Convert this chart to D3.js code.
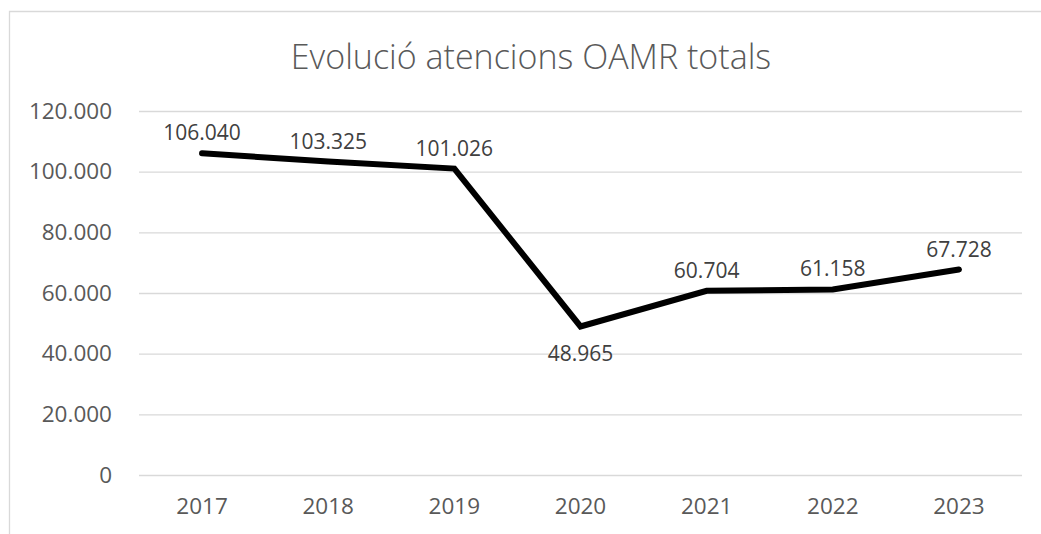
<!DOCTYPE html>
<html>
<head>
<meta charset="utf-8">
<script src="https://cdn.jsdelivr.net/npm/d3@7"></script>
<style>
  html, body { margin: 0; padding: 0; background: #fff; }
  svg { display: block; }
</style>
</head>
<body>
<svg id="chart" width="1041" height="534"></svg>
<script>
// Annual totals of OAMR attentions
const years = ["2017", "2018", "2019", "2020", "2021", "2022", "2023"];
const totals = [106040, 103325, 101026, 48965, 60704, 61158, 67728];
// Label placement relative to each point
const labelSide = ["above", "above", "above", "below", "above", "above", "above"];
const yTicks = [0, 20000, 40000, 60000, 80000, 100000, 120000];
const title = "Evolució atencions OAMR totals";

const svg = d3.select("#chart");
const W = 1041, H = 534;
const plot = { left: 139, right: 1022, top: 111, bottom: 475 };
const font = "'Open Sans', 'Noto Sans', sans-serif";

// Thousands separator as a dot
const fmt = d3.formatLocale({ decimal: ",", thousands: ".", grouping: [3], currency: ["", "€"] }).format(",d");

// Chart frame (only top and left edges fall inside the canvas)
svg.append("path")
  .attr("d", `M9.5,${H} V11.5 H${W}`)
  .attr("fill", "none")
  .attr("stroke", "#d9d9d9")
  .attr("stroke-width", 1.3);

svg.append("text")
  .attr("x", 531)
  .attr("y", 56)
  .attr("text-anchor", "middle")
  .attr("dominant-baseline", "central")
  .attr("font-family", font)
  .attr("font-size", 34)
  .attr("font-weight", 300)
  .attr("fill", "#595959")
  .text(title);

const x = d3.scaleBand().domain(years).range([plot.left, plot.right]);
const y = d3.scaleLinear().domain([0, 120000]).range([plot.bottom, plot.top]);

// Horizontal gridlines with value labels
const yAxis = d3.axisLeft(y)
  .tickValues(yTicks)
  .tickSize(-(plot.right - plot.left))
  .tickPadding(27)
  .tickFormat(d => fmt(d));

const gy = svg.append("g")
  .attr("transform", `translate(${plot.left},0)`)
  .call(yAxis);
gy.select(".domain").remove();
gy.selectAll(".tick line").attr("stroke", "#d9d9d9").attr("stroke-width", 1.3);
gy.selectAll(".tick text")
  .attr("font-family", font)
  .attr("font-size", 22.5)
  .attr("fill", "#595959");

// Category labels
const xAxis = d3.axisBottom(x).tickSize(0).tickPadding(23);
const gx = svg.append("g")
  .attr("transform", `translate(0,${plot.bottom})`)
  .call(xAxis);
gx.select(".domain").remove();
gx.selectAll(".tick text")
  .attr("font-family", font)
  .attr("font-size", 22.5)
  .attr("fill", "#595959");

const cx = (d, i) => x(years[i]) + x.bandwidth() / 2;

const line = d3.line()
  .x((d, i) => cx(d, i))
  .y(d => y(d));

svg.append("path")
  .datum(totals)
  .attr("d", line)
  .attr("fill", "none")
  .attr("stroke", "#000")
  .attr("stroke-width", 6)
  .attr("stroke-linejoin", "miter")
  .attr("stroke-linecap", "round");

svg.append("g")
  .selectAll("text")
  .data(totals)
  .join("text")
  .attr("x", (d, i) => cx(d, i))
  .attr("y", (d, i) => y(d) + (labelSide[i] === "below" ? 27 : -21))
  .attr("text-anchor", "middle")
  .attr("dominant-baseline", "central")
  .attr("font-family", font)
  .attr("font-size", 21)
  .attr("fill", "#404040")
  .text(d => fmt(d));
</script>
</body>
</html>
